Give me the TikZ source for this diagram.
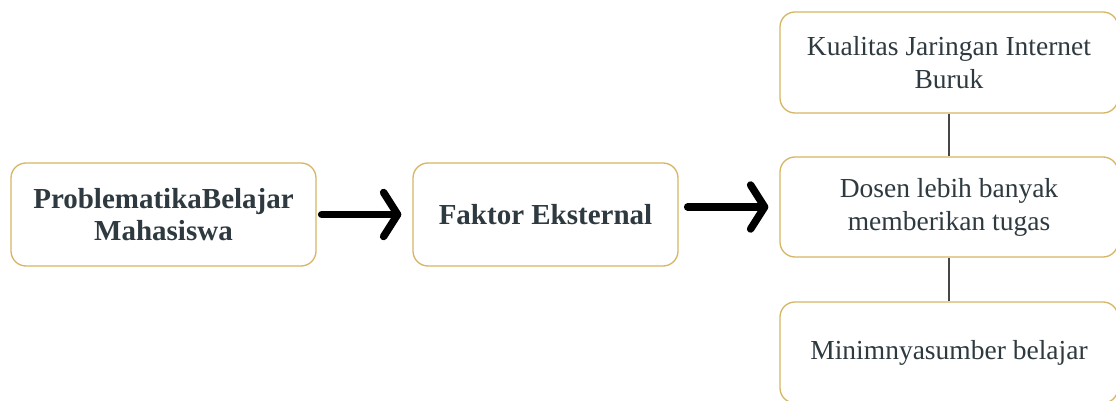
\documentclass[tikz,border=0pt]{standalone}
\usepackage{fontspec}
\setmainfont{Liberation Serif}
\usetikzlibrary{arrows.meta}
\definecolor{boxgold}{RGB}{214,182,100}
\definecolor{txt}{RGB}{46,58,64}
\definecolor{conn}{RGB}{70,70,70}
\tikzset{
  box/.style={draw=boxgold, line width=1.3pt, rounded corners=15pt, fill=white, text=txt, align=center, inner sep=0pt},
  boldtxt/.style={font=\fontsize{29}{32}\selectfont\bfseries},
  normtxt/.style={font=\fontsize{27.5}{33}\selectfont},
  bigarrow/.style={line width=7.5pt, line cap=round, line join=round, -{Straight Barb[length=14pt,width=44pt,line cap=round,line join=round]}},
  link/.style={draw=conn, line width=1.5pt}
}
\begin{document}
\begin{tikzpicture}[x=1pt,y=-1pt]
\useasboundingbox (0,0) rectangle (1116,401);
\clip (0,0) rectangle (1116,401);
\node[box, boldtxt, minimum width=305pt, minimum height=103pt] (L) at (163.5,214.5) {ProblematikaBelajar\\Mahasiswa};
\node[box, boldtxt, minimum width=265pt, minimum height=103pt] (M) at (545.5,214.5) {Faktor Eksternal};
\node[box, normtxt, minimum width=338pt, minimum height=101pt] (R1) at (949,62.5) {Kualitas Jaringan Internet\\Buruk};
\node[box, normtxt, minimum width=338pt, minimum height=100pt] (R2) at (949,207) {Dosen lebih banyak\\memberikan tugas};
\node[box, normtxt, minimum width=338pt, minimum height=101pt] (R3) at (949,352.5) {Minimnyasumber belajar};
\draw[bigarrow] ([xshift=5pt]L.east) -- ([xshift=-11pt]M.west);
\draw[bigarrow] ([xshift=9pt]M.east |- R2.west) -- ([xshift=-11pt]R2.west);
\draw[link] (R1.south) -- (R2.north);
\draw[link] (R2.south) -- (R3.north);
\end{tikzpicture}
\end{document}
